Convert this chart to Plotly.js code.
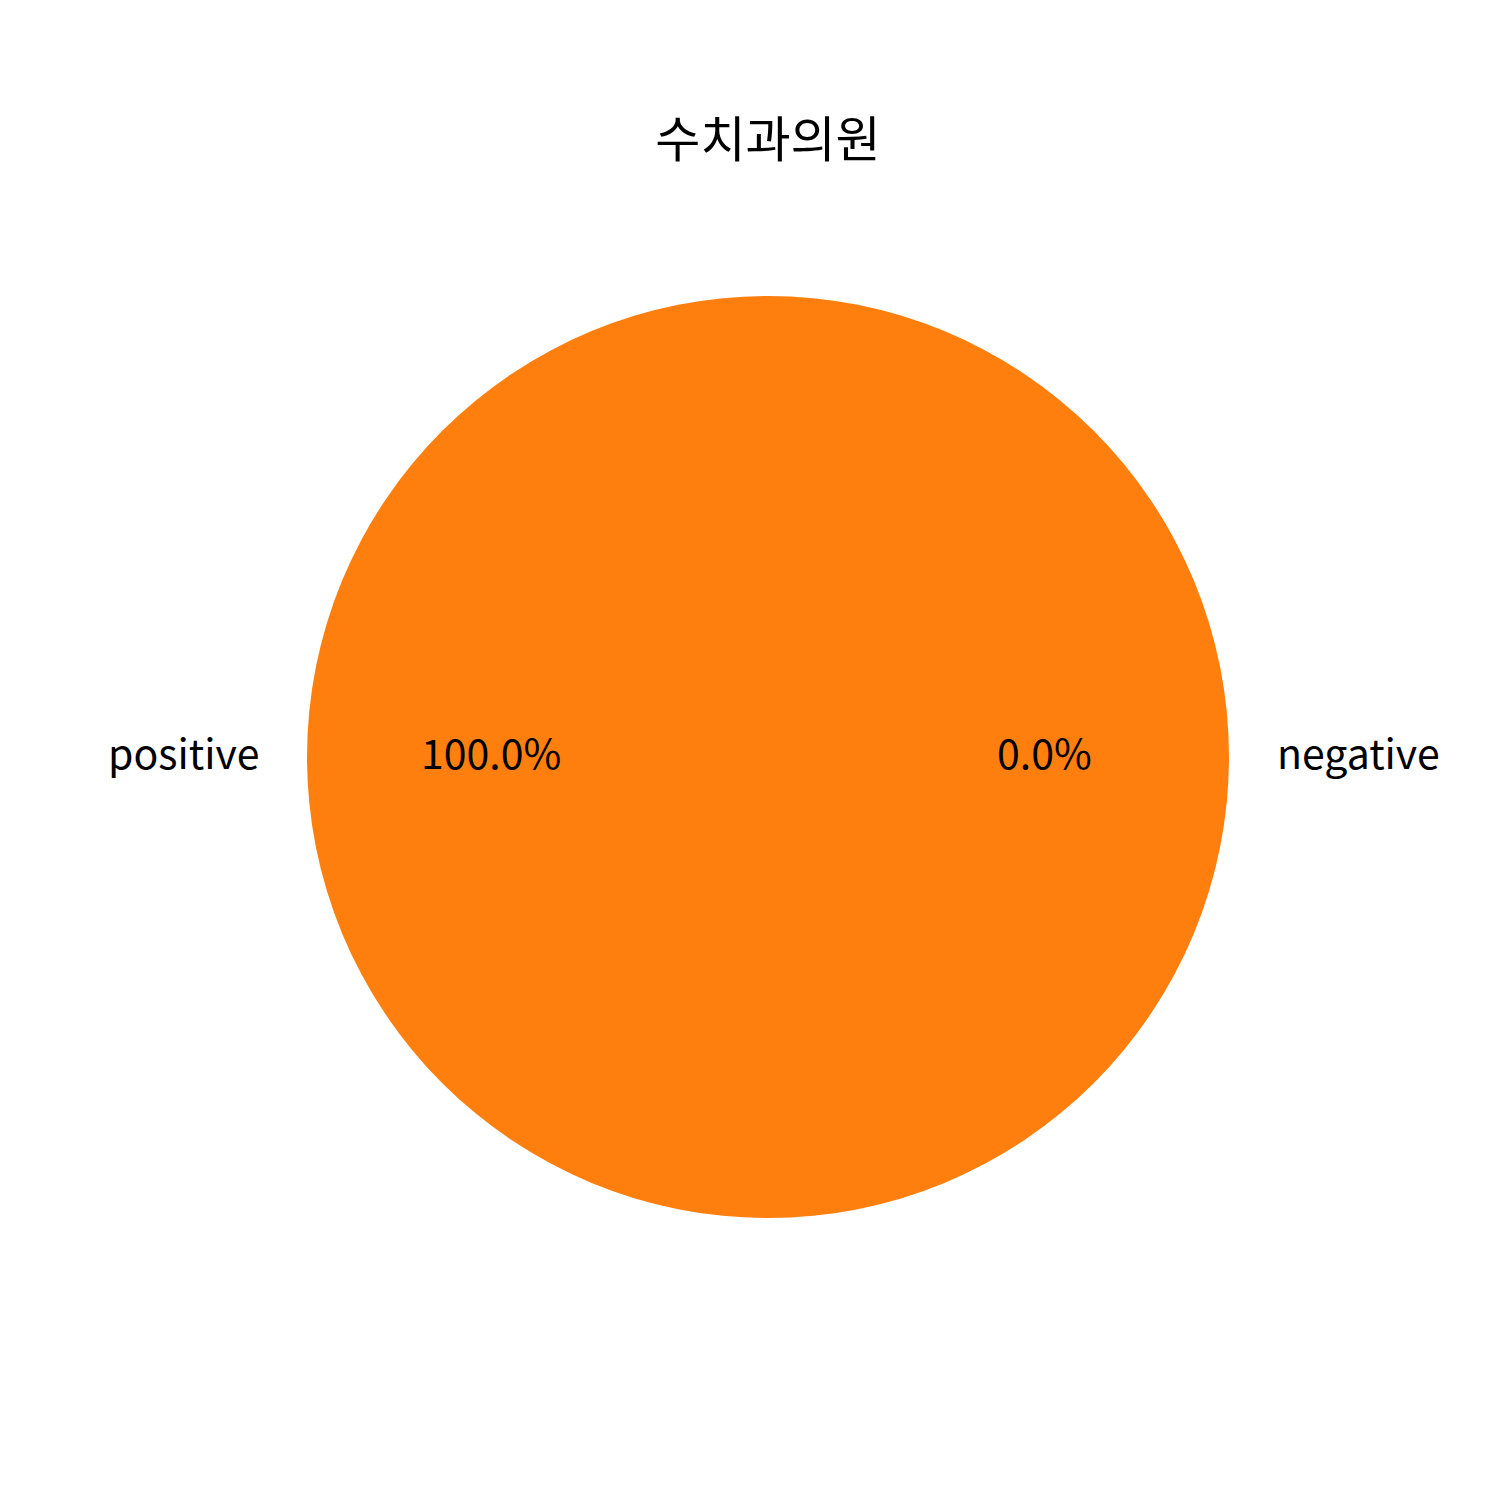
<!DOCTYPE html>
<html>
<head>
<meta charset="utf-8">
<script src="https://cdn.plot.ly/plotly-3.0.1.min.js"></script>
<style>html,body{margin:0;padding:0;background:#fff;}</style>
</head>
<body>
<div id="chart" style="width:1500px;height:1500px;"></div>
<script>
const categories = ['negative', 'positive'];
const values = [0, 100];
const colors = ['#1f77b4', '#ff7f0e'];
const chartTitle = '수치과의원';

const W = 1500, H = 1500;
const cxPx = 768, cyPx = 757, rPx = 461;
const FONT = '"Noto Sans CJK KR", "Noto Sans", sans-serif';

const total = values.reduce((a, b) => a + b, 0);
const annotations = [];
let start = 0;
values.forEach((v, i) => {
  const frac = v / total;
  const end = start + frac * 360;
  const mid = (start + end) / 2 * Math.PI / 180;
  const c = Math.cos(mid), s = Math.sin(mid);
  const lx = cxPx + 1.1 * rPx * c, ly = cyPx - 1.1 * rPx * s;
  annotations.push({
    x: lx / W, y: 1 - ly / H, xref: 'paper', yref: 'paper',
    text: categories[i], showarrow: false,
    xanchor: c >= 0 ? 'left' : 'right', yanchor: 'middle', yshift: 6,
    font: {family: FONT, size: 41, color: '#000'}
  });
  const px = cxPx + 0.6 * rPx * c, py = cyPx - 0.6 * rPx * s;
  annotations.push({
    x: px / W, y: 1 - py / H, xref: 'paper', yref: 'paper',
    text: (frac * 100).toFixed(1) + '%', showarrow: false,
    xanchor: 'center', yanchor: 'middle', yshift: 6,
    font: {family: FONT, size: 41, color: '#000'}
  });
  start = end;
});

const trace = {
  type: 'pie',
  labels: categories,
  values: values,
  marker: {colors: colors, line: {width: 0}},
  sort: false,
  direction: 'counterclockwise',
  rotation: 90,
  textinfo: 'none',
  hoverinfo: 'label+percent',
  showlegend: false,
  domain: {
    x: [(cxPx - rPx) / W, (cxPx + rPx) / W],
    y: [1 - (cyPx + rPx) / H, 1 - (cyPx - rPx) / H]
  }
};

const layout = {
  width: W, height: H,
  margin: {l: 0, r: 0, t: 0, b: 0},
  paper_bgcolor: '#fff',
  showlegend: false,
  title: {
    text: chartTitle,
    x: cxPx / W, xref: 'paper', xanchor: 'center',
    y: 1 - 140 / H, yref: 'paper', yanchor: 'middle',
    font: {family: FONT, size: 49, color: '#000'}
  },
  annotations: annotations
};

Plotly.newPlot('chart', [trace], layout, {displayModeBar: false});
</script>
</body>
</html>
